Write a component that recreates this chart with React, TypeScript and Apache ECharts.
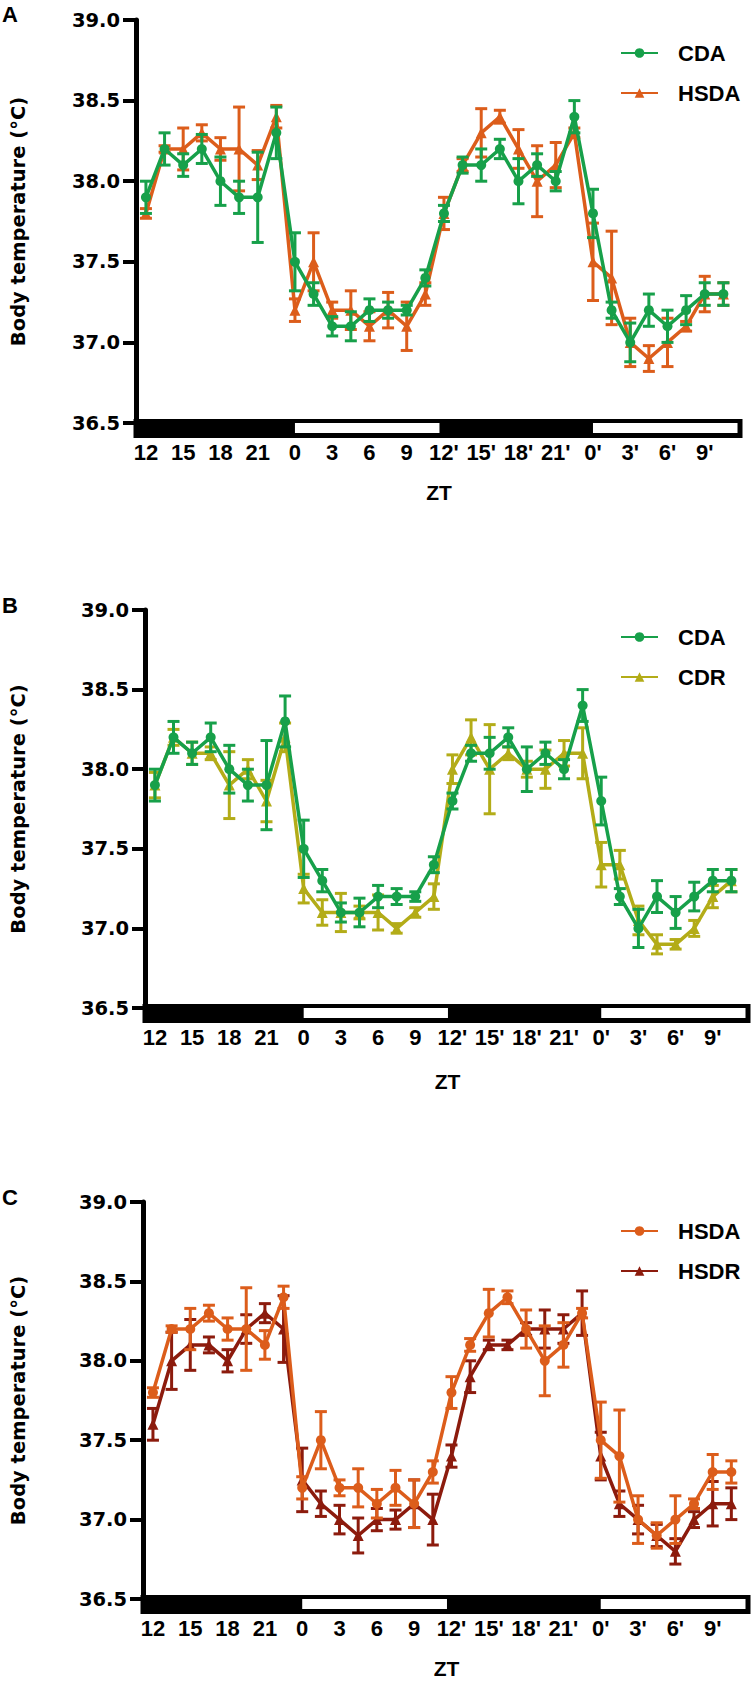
import React, { useEffect, useRef } from "react";
import * as echarts from "echarts";

// ---------- data ----------
const hours = [12, 13.5, 15, 16.5, 18, 19.5, 21, 22.5, 24, 25.5, 27, 28.5, 30, 31.5, 33, 34.5,
  36, 37.5, 39, 40.5, 42, 43.5, 45, 46.5, 48, 49.5, 51, 52.5, 54, 55.5, 57, 58.5];

const tickHours = [12, 15, 18, 21, 24, 27, 30, 33, 36, 39, 42, 45, 48, 51, 54, 57];
const tickLabels = ["12", "15", "18", "21", "0", "3", "6", "9", "12'", "15'", "18'", "21'", "0'", "3'", "6'", "9'"];

const cdaMean = [37.9, 38.2, 38.1, 38.2, 38.0, 37.9, 37.9, 38.3, 37.5, 37.3, 37.1, 37.1, 37.2, 37.2, 37.2, 37.4,
  37.8, 38.1, 38.1, 38.2, 38.0, 38.1, 38.0, 38.4, 37.8, 37.2, 37.0, 37.2, 37.1, 37.2, 37.3, 37.3];
const cdaSem = [0.1, 0.1, 0.07, 0.09, 0.15, 0.1, 0.28, 0.16, 0.18, 0.07, 0.06, 0.09, 0.07, 0.05, 0.03, 0.05,
  0.05, 0.05, 0.1, 0.06, 0.14, 0.07, 0.06, 0.1, 0.15, 0.05, 0.12, 0.1, 0.1, 0.09, 0.07, 0.07];

const hsdaMean = [37.8, 38.2, 38.2, 38.3, 38.2, 38.2, 38.1, 38.4, 37.2, 37.5, 37.2, 37.2, 37.1, 37.2, 37.1, 37.3,
  37.8, 38.1, 38.3, 38.4, 38.2, 38.0, 38.1, 38.3, 37.5, 37.4, 37.0, 36.9, 37.0, 37.1, 37.3, 37.3];
const hsdaSem = [0.03, 0.02, 0.13, 0.05, 0.07, 0.26, 0.09, 0.07, 0.07, 0.18, 0.05, 0.12, 0.09, 0.11, 0.15, 0.07,
  0.1, 0.04, 0.15, 0.04, 0.12, 0.22, 0.14, 0.03, 0.24, 0.29, 0.15, 0.08, 0.15, 0.03, 0.11, 0.07];

const cdrMean = [37.9, 38.2, 38.1, 38.1, 37.9, 38.0, 37.8, 38.2, 37.25, 37.1, 37.1, 37.1, 37.1, 37.0, 37.1, 37.2,
  38.0, 38.2, 38.0, 38.1, 38.0, 38.0, 38.1, 38.1, 37.4, 37.4, 37.05, 36.9, 36.9, 37.0, 37.2, 37.3];
const cdrSem = [0.08, 0.05, 0.07, 0.04, 0.21, 0.06, 0.13, 0.09, 0.09, 0.08, 0.12, 0.04, 0.11, 0.03, 0.03, 0.08,
  0.09, 0.11, 0.28, 0.04, 0.05, 0.12, 0.08, 0.16, 0.14, 0.09, 0.09, 0.06, 0.03, 0.05, 0.07, 0.07];

const hsdrMean = [37.6, 38.0, 38.1, 38.1, 38.0, 38.2, 38.3, 38.2, 37.25, 37.1, 37.0, 36.9, 37.0, 37.0, 37.1, 37.0,
  37.4, 37.9, 38.1, 38.1, 38.2, 38.2, 38.2, 38.3, 37.4, 37.1, 37.0, 36.9, 36.8, 37.0, 37.1, 37.1];
const hsdrSem = [0.1, 0.18, 0.16, 0.05, 0.07, 0.09, 0.06, 0.21, 0.2, 0.08, 0.09, 0.11, 0.07, 0.06, 0.15, 0.16,
  0.07, 0.1, 0.03, 0.03, 0.04, 0.12, 0.09, 0.14, 0.15, 0.08, 0.09, 0.07, 0.08, 0.05, 0.14, 0.1];

// light/dark phases: [start, end, isLight]
const phases = [[11.2, 24, 0], [24, 36, 1], [36, 48, 0], [48, 60, 1]];

const X_MIN = 11.2;
const X_MAX = 60;
const Y_MIN = 36.5;
const Y_MAX = 39;

const GREEN = "#17A04A";
const ORANGE = "#DC5D1B";
const OLIVE = "#B3AC18";
const DARKRED = "#8C1B0D";

const AX_FONT = "DejaVu Sans";
const TX_FONT = "Liberation Sans";

type DS = { name: string; mean: number[]; sem: number[]; color: string; symbol: string; symbolSize: number };

const panels = [
  {
    letter: "A", height: 560, gridLeft: 133, gridTop: 20, gridWidth: 609, gridHeight: 403,
    nameGapY: 108, nameGapX: 59, letterTop: 3, legendTop: 37,
    sets: [
      { name: "CDA", mean: cdaMean, sem: cdaSem, color: GREEN, symbol: "circle", symbolSize: 10 },
      { name: "HSDA", mean: hsdaMean, sem: hsdaSem, color: ORANGE, symbol: "triangle", symbolSize: 11 },
    ] as DS[],
  },
  {
    letter: "B", height: 590, gridLeft: 142, gridTop: 50, gridWidth: 608, gridHeight: 398,
    nameGapY: 117, nameGapX: 63, letterTop: 34, legendTop: 61,
    sets: [
      { name: "CDA", mean: cdaMean, sem: cdaSem, color: GREEN, symbol: "circle", symbolSize: 10 },
      { name: "CDR", mean: cdrMean, sem: cdrSem, color: OLIVE, symbol: "triangle", symbolSize: 11 },
    ] as DS[],
  },
  {
    letter: "C", height: 534, gridLeft: 140, gridTop: 52, gridWidth: 610, gridHeight: 401,
    nameGapY: 115, nameGapX: 59, letterTop: 36, legendTop: 65,
    sets: [
      { name: "HSDA", mean: hsdaMean, sem: hsdaSem, color: ORANGE, symbol: "circle", symbolSize: 10 },
      { name: "HSDR", mean: hsdrMean, sem: hsdrSem, color: DARKRED, symbol: "triangle", symbolSize: 11 },
    ] as DS[],
  },
];

function errRender(color: string) {
  return (params: any, api: any) => {
    const x = api.value(0);
    const v = api.value(1);
    const e = api.value(2);
    const t = api.coord([x, v + e]);
    const b = api.coord([x, v - e]);
    const hw = 6;
    const st = { stroke: color, lineWidth: 3 };
    return {
      type: "group",
      children: [
        { type: "line", shape: { x1: t[0], y1: t[1], x2: b[0], y2: b[1] }, style: st },
        { type: "line", shape: { x1: t[0] - hw, y1: t[1], x2: t[0] + hw, y2: t[1] }, style: st },
        { type: "line", shape: { x1: b[0] - hw, y1: b[1], x2: b[0] + hw, y2: b[1] }, style: st },
      ],
    };
  };
}

function phaseRender(params: any, api: any) {
  const s = api.value(0);
  const e = api.value(1);
  const light = api.value(2);
  const p1 = api.coord([s, Y_MIN]);
  const p2 = api.coord([e, Y_MIN]);
  const first = params.dataIndex === 0;
  const x1 = first ? p1[0] - 2.5 : p1[0] - 0.5;
  const x2 = p2[0] + 0.5;
  const children: any[] = [
    { type: "rect", shape: { x: x1, y: p1[1] - 4, width: x2 - x1, height: 19 }, style: { fill: "#000" } },
  ];
  if (light) {
    children.push({
      type: "rect",
      shape: { x: p1[0], y: p1[1], width: p2[0] - p1[0] - 4.5, height: 10 },
      style: { fill: "#fff" },
    });
  }
  return { type: "group", children };
}

function buildOption(p: any) {
  const series: any[] = [];
  series.push({
    type: "custom",
    name: "phase",
    data: phases,
    dimensions: ["start", "end", "light"],
    encode: { x: ["start", "end"] },
    renderItem: phaseRender,
    clip: false,
    silent: true,
    z: 1,
  });
  // second dataset drawn below first
  const order = [p.sets[1], p.sets[0]];
  order.forEach((d: DS, k: number) => {
    const z = 3 + k * 2;
    series.push({
      type: "line",
      name: d.name,
      data: hours.map((h, i) => [h, d.mean[i]]),
      symbol: d.symbol,
      symbolSize: d.symbolSize,
      showSymbol: true,
      lineStyle: { color: d.color, width: 3.5 },
      itemStyle: { color: d.color },
      z: z + 1,
      clip: false,
    });
    series.push({
      type: "custom",
      name: d.name + " SEM",
      data: hours.map((h, i) => [h, d.mean[i], d.sem[i]]),
      dimensions: ["x", "y", "e"],
      encode: { x: "x", y: "y" },
      renderItem: errRender(d.color),
      clip: false,
      silent: true,
      z: z,
    });
  });

  return {
    animation: false,
    backgroundColor: "#fff",
    grid: { left: p.gridLeft, top: p.gridTop, width: p.gridWidth, height: p.gridHeight },
    legend: {
      orient: "vertical",
      left: 615,
      top: p.legendTop,
      itemWidth: 37,
      itemHeight: 12,
      itemGap: 18,
      selectedMode: false,
      data: [p.sets[0].name, p.sets[1].name],
      textStyle: {
        fontFamily: TX_FONT, fontSize: 22, fontWeight: "bold", color: "#000",
        padding: [0, 0, 0, 15],
      },
    },
    title: {
      text: p.letter,
      left: 2,
      top: p.letterTop,
      padding: 0,
      textStyle: { fontFamily: TX_FONT, fontSize: 22, fontWeight: "bold", color: "#000" },
    },
    xAxis: {
      type: "value",
      min: X_MIN,
      max: X_MAX,
      name: "ZT",
      nameLocation: "middle",
      nameGap: p.nameGapX,
      nameTextStyle: { fontFamily: TX_FONT, fontSize: 21, fontWeight: "bold", color: "#000" },
      axisLine: { show: false },
      axisTick: { show: false },
      splitLine: { show: false },
      axisLabel: {
        customValues: tickHours,
        margin: 18,
        fontFamily: TX_FONT,
        fontSize: 22,
        fontWeight: "bold",
        color: "#000",
        formatter: (v: number) => {
          const idx = tickHours.indexOf(v);
          return idx >= 0 ? tickLabels[idx] : "";
        },
      },
    },
    yAxis: {
      type: "value",
      min: Y_MIN,
      max: Y_MAX,
      interval: 0.5,
      name: "Body temperature (°C)",
      nameLocation: "middle",
      nameGap: p.nameGapY,
      nameTextStyle: { fontFamily: AX_FONT, fontSize: 19.5, fontWeight: "bold", color: "#000" },
      axisLine: { show: true, lineStyle: { color: "#000", width: 5 } },
      axisTick: { show: true, length: 13, lineStyle: { color: "#000", width: 4 } },
      splitLine: { show: false },
      axisLabel: {
        margin: 16,
        fontFamily: AX_FONT,
        fontSize: 19.5,
        fontWeight: "bold",
        color: "#000",
        formatter: (v: number) => v.toFixed(1),
      },
    },
    series,
  };
}

function Panel({ cfg }: { cfg: any }) {
  const ref = useRef<HTMLDivElement>(null);
  useEffect(() => {
    const chart = echarts.init(ref.current as HTMLDivElement, null, { renderer: "svg" });
    chart.setOption(buildOption(cfg) as any);
    return () => chart.dispose();
  }, [cfg]);
  return <div ref={ref} style={{ width: 751, height: cfg.height }} />;
}

export default function App() {
  useEffect(() => {
    document.body.style.margin = "0";
  }, []);
  return (
    <div style={{ width: 751, height: 1684, background: "#fff" }}>
      {panels.map((p) => (
        <Panel key={p.letter} cfg={p} />
      ))}
    </div>
  );
}
